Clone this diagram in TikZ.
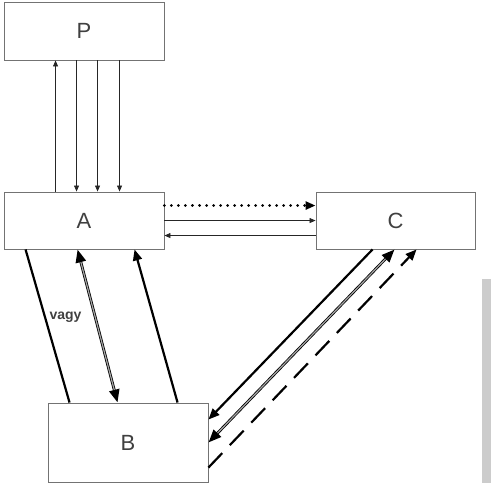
\documentclass[tikz,border=0pt]{standalone}
\usepackage{fontspec}
\setmainfont{Liberation Sans}
\usetikzlibrary{arrows.meta,calc}
\begin{document}
\begin{tikzpicture}[x=1pt,y=-1pt,
  box/.style={draw=black!55,line width=0.9pt,fill=white,inner sep=0pt,
    font=\fontsize{22}{26}\selectfont,text=black!75},
  thin/.style={draw=black!85,line width=0.8pt,-{Triangle[length=6pt,width=5pt]}},
  thick/.style={draw=black,line width=2.2pt},
  tip/.style={-{Triangle[length=11pt,width=9pt]}},
  dblout/.style={draw=black,line width=2.8pt,
    {Triangle[length=13pt,width=10pt]}-{Triangle[length=13pt,width=10pt]}},
  dblin/.style={draw=black!35,line width=1.2pt,shorten <=13pt,shorten >=13pt},
]
\useasboundingbox (0,0) rectangle (491,489);
\fill[black!20] (482,279) rectangle (491,483);
\node[box,minimum width=160pt,minimum height=58pt] (P) at (84,31) {P};
\node[box,minimum width=160pt,minimum height=57pt] (A) at (84,220.5) {A};
\node[box,minimum width=159pt,minimum height=57pt] (C) at (395.5,220.5) {C};
\node[box,minimum width=160pt,minimum height=79pt] (B) at (128,442.5) {B};
% P - A
\draw[thin] ([xshift=52pt]A.north west) -- ([xshift=52pt]P.south west);
\draw[thin] ([xshift=73pt]P.south west) -- ([xshift=73pt]A.north west);
\draw[thin] ([xshift=94pt]P.south west) -- ([xshift=94pt]A.north west);
\draw[thin] ([xshift=116pt]P.south west) -- ([xshift=116pt]A.north west);
% A - C
\draw[draw=black,line width=3pt,line cap=round,dash pattern=on 0.01pt off 7pt,
  -{Triangle[length=10pt,width=8pt]}] ([yshift=-14pt]A.north east) -- ([yshift=-14pt]C.north west);
\draw[thin] ([yshift=-29pt]A.north east) -- ([yshift=-29pt]C.north west);
\draw[thin] ([yshift=-44pt]C.north west) -- ([yshift=-44pt]A.north east);
% A - B
\draw[thick] ([xshift=22pt]A.south west) -- ([xshift=22pt]B.north west);
\draw[dblout] ([xshift=74pt]A.south west) -- node[pos=0.44,left=9pt,font=\bfseries\fontsize{14}{16}\selectfont,text=black!75] (vagy) {vagy} ([xshift=70pt]B.north west);
\draw[dblin] ([xshift=74pt]A.south west) -- ([xshift=70pt]B.north west);
\draw[thick,tip] ([xshift=130pt]B.north west) -- ([xshift=131pt]A.south west);
% C - B
\draw[thick,tip] ([xshift=57pt]C.south west) -- ([yshift=-17pt]B.north east);
\draw[dblout] ([xshift=79pt]C.south west) -- ([yshift=-40pt]B.north east);
\draw[dblin] ([xshift=79pt]C.south west) -- ([yshift=-40pt]B.north east);
\draw[thick,tip,dash pattern=on 20pt off 11pt] ([yshift=-65pt]B.north east) -- ([xshift=101pt]C.south west);
\end{tikzpicture}
\end{document}
